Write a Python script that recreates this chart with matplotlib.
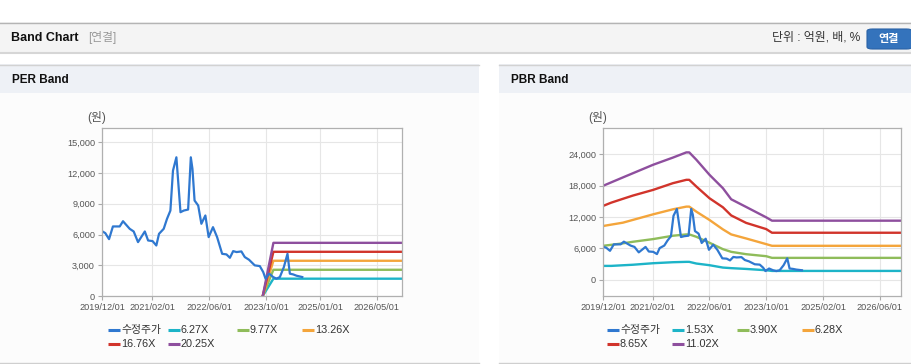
"""
Band chart (PER / PBR) recreation.
"""
import pandas as pd
import matplotlib
matplotlib.use("Agg")
import matplotlib.pyplot as plt
from matplotlib.patches import Rectangle, FancyBboxPatch
from matplotlib.lines import Line2D
from matplotlib.ticker import FuncFormatter

plt.rcParams["font.family"] = ["Liberation Sans", "Noto Sans CJK KR"]

W, H = 912, 364

# ---- data ---------------------------------------------------------------
price_dates = ["2019-12-01", "2019-12-29", "2020-01-30", "2020-03-03", "2020-04-30",
               "2020-05-28", "2020-07-24", "2020-08-27", "2020-10-03", "2020-11-30",
               "2020-12-28", "2021-02-04", "2021-03-08", "2021-03-31", "2021-05-10",
               "2021-06-07", "2021-07-06", "2021-07-28", "2021-08-26", "2021-09-30",
               "2021-10-28", "2021-12-04", "2021-12-27", "2022-01-10", "2022-01-28",
               "2022-02-28", "2022-03-27", "2022-04-30", "2022-05-28", "2022-07-04",
               "2022-08-08", "2022-09-20", "2022-10-27", "2022-11-25", "2022-12-23",
               "2023-01-21", "2023-03-03", "2023-04-01", "2023-05-07", "2023-06-25",
               "2023-08-07", "2023-09-05", "2023-09-25", "2023-10-26", "2023-11-29",
               "2023-12-27", "2024-01-25", "2024-02-28", "2024-03-30", "2024-04-19",
               "2024-05-17", "2024-06-15", "2024-08-03"]
price_vals = [6330, 6140, 5550, 6790, 6790, 7300, 6560, 6300, 5260, 6300,
              5420, 5360, 4930, 6070, 6560, 7530, 8340, 12240, 13540, 8180,
              8340, 8440, 13540, 12400, 9320, 8830, 7050, 7860, 5750, 6720,
              5750, 4120, 4060, 3730, 4380, 4290, 4350, 3800, 3540, 2990,
              2920, 2340, 1690, 2180, 1850, 1690, 1850, 2820, 4120, 2180,
              2110, 1980, 1850]

per_band_dates = ["2023-09-01", "2023-12-01", "2026-12-01"]
per_labels = ["6.27X", "9.77X", "13.26X", "16.76X", "20.25X"]
per_627 = [0, 1690, 1690]
per_977 = [0, 2560, 2560]
per_1326 = [0, 3440, 3440]
per_1676 = [0, 4315, 4315]
per_2025 = [0, 5190, 5190]

pbr_band_dates = ["2019-12-01", "2020-02-10", "2020-05-20", "2020-08-14", "2021-02-03",
                  "2021-07-23", "2021-11-15", "2021-12-10", "2022-02-09", "2022-06-02",
                  "2022-09-25", "2022-12-05", "2023-04-12", "2023-10-01", "2023-11-20",
                  "2026-12-01"]
pbr_labels = ["1.53X", "3.90X", "6.28X", "8.65X", "11.02X"]
pbr_153 = [2680, 2680, 2800, 2900, 3190, 3380, 3450, 3450, 3130, 2810, 2360, 2250, 2100, 1850, 1720, 1720]
pbr_390 = [6510, 6700, 6980, 7280, 7790, 8430, 8680, 8680, 8230, 7090, 5870, 5360, 4910, 4530, 4210, 4210]
pbr_628 = [10280, 10550, 10920, 11450, 12510, 13470, 13980, 13980, 13020, 11430, 9640, 8680, 7910, 6830, 6510, 6510]
pbr_865 = [14110, 14740, 15470, 16090, 17170, 18450, 19090, 19090, 17810, 15570, 13850, 12300, 10880, 9700, 9000, 9000]
pbr_1102 = [17940, 18610, 19550, 20350, 21960, 23330, 24320, 24320, 22920, 20040, 17490, 15380, 13920, 11940, 11300, 11300]

per_xticks = ["2019/12/01", "2021/02/01", "2022/06/01", "2023/10/01", "2025/01/01", "2026/05/01"]
pbr_xticks = ["2019/12/01", "2021/02/01", "2022/06/01", "2023/10/01", "2025/02/01", "2026/06/01"]
per_yticks = [0, 3000, 6000, 9000, 12000, 15000]
pbr_yticks = [0, 6000, 12000, 18000, 24000]

PRICE_LABEL = "수정주가"
COLORS = ["#2f78d0", "#1db4c8", "#8fbc5a", "#f4a53b", "#d1342b", "#8e4f9e"]


# ---- helpers --------------------------------------------------------------
def fx(x):
    return x / W


def fy(y):
    return 1 - y / H


def rect(fig, x0, y0, x1, y1, color):
    fig.patches.append(Rectangle((fx(x0), fy(y1)), fx(x1 - x0), (y1 - y0) / H,
                                 transform=fig.transFigure, facecolor=color,
                                 edgecolor="none", zorder=-2))


def hline(fig, x0, x1, y, color, lw=1.0):
    fig.add_artist(Line2D([fx(x0), fx(x1)], [fy(y), fy(y)], transform=fig.transFigure,
                          color=color, lw=lw, zorder=-1))


def draw_panel(fig, x0, x1, title):
    rect(fig, x0, 64, x1, 363, "#fcfcfc")
    rect(fig, x0, 64, x1, 93, "#eef1f6")
    hline(fig, x0, x1, 64.5, "#d2d2d2")
    hline(fig, x0, x1, 363, "#cfcfcf")
    fig.text(fx(x0 + 12), fy(80), title, fontsize=8.5, fontweight="bold",
             color="#111111", va="center", ha="left")


def band_axes(fig, left_px, right_px, ylim, yticks, tick_dates, tick_labels):
    ax = fig.add_axes([fx(left_px), fy(296), fx(right_px - left_px), (296 - 128) / H])
    ax.set_facecolor("white")
    ax.set_xlim(pd.Timestamp("2019-12-01"), pd.Timestamp("2026-12-01"))
    ax.set_ylim(*ylim)
    ax.set_yticks(yticks)
    ax.yaxis.set_major_formatter(FuncFormatter(lambda v, p: f"{int(v):,}"))
    ax.set_xticks(pd.to_datetime([d.replace("/", "-") for d in tick_dates]))
    ax.set_xticklabels(tick_labels)
    ax.tick_params(axis="both", labelsize=6.6, colors="#aaaaaa", labelcolor="#555555",
                   length=3, width=0.8, pad=2)
    ax.grid(True, color="#e6e6e6", lw=0.8)
    ax.set_axisbelow(True)
    for s in ax.spines.values():
        s.set_color("#b0b0b0")
        s.set_linewidth(0.9)
    return ax


def draw_legend(fig, cols_px, labels):
    rows = [330, 344]
    for i, (lab, col) in enumerate(zip(labels, COLORS)):
        r, c = divmod(i, 4)
        x = cols_px[c]
        y = rows[r]
        fig.add_artist(Line2D([fx(x), fx(x + 12)], [fy(y), fy(y)], transform=fig.transFigure,
                              color=col, lw=2.2, solid_capstyle="butt"))
        fig.text(fx(x + 13), fy(y), lab, fontsize=7.8, color="#333333",
                 va="center", ha="left")


fig = plt.figure(figsize=(W / 100, H / 100), dpi=100)
fig.patch.set_facecolor("white")

# ---- page header ------------------------------------------------------------
rect(fig, 0, 22, 912, 52, "#f4f4f4")
hline(fig, 0, 912, 22.5, "#b4b4b4")
hline(fig, 0, 912, 53, "#d6d6d6", lw=1.5)
fig.text(fx(11), fy(38), "Band Chart", fontsize=9, fontweight="bold", color="#111111",
         va="center", ha="left")
fig.text(fx(88), fy(38), "[연결]", fontsize=8.5, color="#999999", va="center", ha="left")
fig.text(fx(860), fy(38), "단위 : 억원, 배, %", fontsize=8.6, color="#333333",
         va="center", ha="right")
fig.patches.append(FancyBboxPatch((fx(867), fy(49)), fx(45), 20 / H,
                                  boxstyle="round,pad=0,rounding_size=0.006",
                                  transform=fig.transFigure, facecolor="#3473bc",
                                  edgecolor="#2a62a6", lw=0.8, zorder=2))
fig.text(fx(889), fy(39), "연결", fontsize=8, fontweight="bold", color="white",
         va="center", ha="center", zorder=3)

draw_panel(fig, 0, 479, "PER Band")
draw_panel(fig, 499, 912, "PBR Band")

# ---- PER ------------------------------------------------------------------
pdates = pd.to_datetime(price_dates)
ax1 = band_axes(fig, 102, 402, (0, 16400), per_yticks, per_xticks, per_xticks)
per_series = [per_627, per_977, per_1326, per_1676, per_2025]
for vals, col in zip(per_series, COLORS[1:]):
    ax1.plot(pd.to_datetime(per_band_dates), vals, color=col, lw=1.7)
ax1.plot(pdates, price_vals, color=COLORS[0], lw=1.6)
fig.text(fx(97), fy(117), "(원)", fontsize=8.5, color="#555555", va="center", ha="center")
draw_legend(fig, [108, 168, 237, 302], [PRICE_LABEL] + per_labels)

# ---- PBR ------------------------------------------------------------------
ax2 = band_axes(fig, 603, 901, (-3060, 28970), pbr_yticks, pbr_xticks, pbr_xticks)
pbr_series = [pbr_153, pbr_390, pbr_628, pbr_865, pbr_1102]
for vals, col in zip(pbr_series, COLORS[1:]):
    ax2.plot(pd.to_datetime(pbr_band_dates), vals, color=col, lw=1.7)
ax2.plot(pdates, price_vals, color=COLORS[0], lw=1.6)
fig.text(fx(598), fy(117), "(원)", fontsize=8.5, color="#555555", va="center", ha="center")
draw_legend(fig, [607, 672, 737, 802], [PRICE_LABEL] + pbr_labels)

fig.savefig("out.png", dpi=100)
